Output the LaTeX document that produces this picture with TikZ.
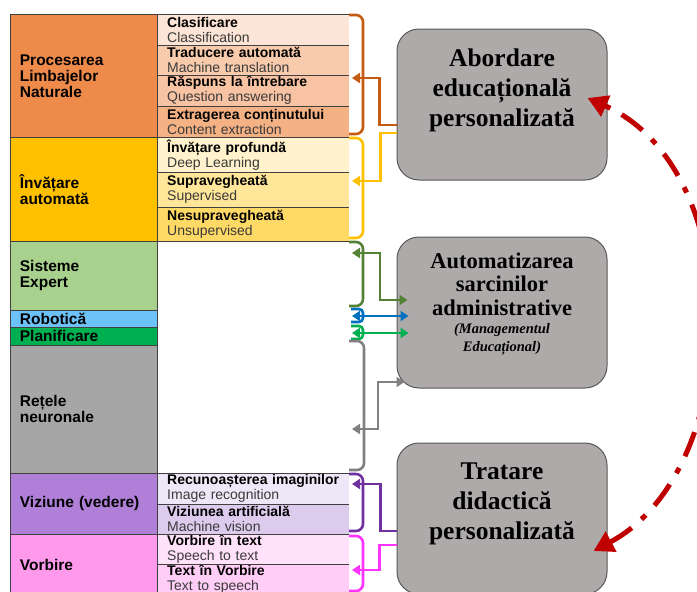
\documentclass[tikz,border=0pt]{standalone}
\usepackage{fontspec}
\setmainfont{Liberation Serif}
\newfontfamily\arialfont{Liberation Sans}
\usetikzlibrary{arrows.meta,positioning}

% table colours
\definecolor{gridline}{HTML}{404040}
\definecolor{subgray}{HTML}{3A3A3A}
\definecolor{nlpmain}{HTML}{EE8B4B}
\definecolor{nlpa}{HTML}{FCE4D6}
\definecolor{nlpb}{HTML}{F8CBAD}
\definecolor{nlpc}{HTML}{F7C3A3}
\definecolor{nlpd}{HTML}{F4B183}
\definecolor{mlmain}{HTML}{FFC000}
\definecolor{mla}{HTML}{FFF2CC}
\definecolor{mlb}{HTML}{FFE699}
\definecolor{mlc}{HTML}{FFD966}
\definecolor{expmain}{HTML}{A9D18E}
\definecolor{robmain}{HTML}{6DC2FA}
\definecolor{planmain}{HTML}{00B050}
\definecolor{nnmain}{HTML}{A6A6A6}
\definecolor{vismain}{HTML}{B07FD7}
\definecolor{visa}{HTML}{EEE7F7}
\definecolor{visb}{HTML}{DDCBEE}
\definecolor{spmain}{HTML}{FF99EB}
\definecolor{spa}{HTML}{FFE1FA}
\definecolor{spb}{HTML}{FFCDF5}
% connector colours
\definecolor{nlpline}{HTML}{C55A11}
\definecolor{mlline}{HTML}{FFC000}
\definecolor{expline}{HTML}{548235}
\definecolor{robline}{HTML}{0070C0}
\definecolor{planline}{HTML}{00B050}
\definecolor{nnline}{HTML}{808080}
\definecolor{visline}{HTML}{7030A0}
\definecolor{spline}{HTML}{FF33FF}
\definecolor{boxfill}{HTML}{AEAAAA}
\definecolor{boxedge}{HTML}{595959}
\definecolor{cyclered}{HTML}{C00000}

\newcommand{\subtxt}[2]{\textbf{#1}\\\textcolor{subgray}{#2}}

\tikzset{
  catcell/.style={draw=gridline, line width=0.8pt, anchor=north west, text width=128pt,
    inner xsep=9.5pt, inner ysep=0pt, align=left,
    font=\arialfont\bfseries\fontsize{15.5}{16}\selectfont},
  subcell/.style={anchor=north west, text width=172pt, inner xsep=10pt, inner ysep=0pt,
    align=left, font=\arialfont\fontsize{14}{15}\selectfont},
  gridrule/.style={draw=gridline, line width=0.8pt},
  brace/.style={line width=2.6pt, rounded corners=7pt},
  smallbrace/.style={line width=2.6pt, rounded corners=4pt},
  link/.style={line width=2.6pt, -{Triangle[length=8pt,width=10pt]}},
  duallink/.style={line width=2.6pt, {Triangle[length=8pt,width=10pt]}-{Triangle[length=8pt,width=10pt]}},
  edubox/.style={rounded corners=22pt, minimum width=210pt, minimum height=151pt,
    fill=boxfill, draw=boxedge, line width=1pt},
  boxtitle/.style={align=center, inner sep=0pt, font=\bfseries\fontsize{25.5}{30}\selectfont},
  boxtitlesmall/.style={align=center, inner sep=0pt, font=\bfseries\fontsize{22.5}{23.5}\selectfont},
  boxnote/.style={align=center, inner sep=0pt, font=\bfseries\itshape\fontsize{14.5}{18}\selectfont},
  cyclelink/.style={cyclered, line width=5pt, dash pattern=on 26pt off 13pt on 6pt off 13pt,
    {Triangle[length=20pt,width=22pt]}-{Triangle[length=20pt,width=22pt]}}
}

\begin{document}
\begin{tikzpicture}[x=1pt, y=-1pt]
  \useasboundingbox (0,0) rectangle (697,592);
  \clip (0,0) rectangle (697,592);

  % Sub-fields
  \node[subcell, fill=nlpa, minimum height=31pt] (cls) at (157,14) {\subtxt{Clasificare}{Classification}};
  \node[subcell, fill=nlpb, minimum height=30pt] (trd) at (157,45) {\subtxt{Traducere automată}{Machine translation}};
  \node[subcell, fill=nlpc, minimum height=31pt] (qa) at (157,75) {\subtxt{Răspuns la întrebare}{Question answering}};
  \node[subcell, fill=nlpd, minimum height=31pt] (ext) at (157,106) {\subtxt{Extragerea conținutului}{Content extraction}};
  \node[subcell, fill=mla, minimum height=35pt] (deep) at (157,137) {\subtxt{Învățare profundă}{Deep Learning}};
  \node[subcell, fill=mlb, minimum height=35pt] (sup) at (157,172) {\subtxt{Supravegheată}{Supervised}};
  \node[subcell, fill=mlc, minimum height=34pt] (uns) at (157,207) {\subtxt{Nesupravegheată}{Unsupervised}};
  \node[subcell, minimum height=232pt] (blank) at (157,241) {};
  \node[subcell, fill=visa, minimum height=31pt] (img) at (157,473) {\subtxt{Recunoașterea imaginilor}{Image recognition}};
  \node[subcell, fill=visb, minimum height=30pt] (mv) at (157,504) {\subtxt{Viziunea artificială}{Machine vision}};
  \node[subcell, fill=spa, minimum height=30pt] (stt) at (157,534) {\subtxt{Vorbire în text}{Speech to text}};
  \node[subcell, fill=spb, minimum height=30pt] (tts) at (157,564) {\subtxt{Text în Vorbire}{Text to speech}};
  \foreach \c in {cls,trd,qa,ext,deep,sup,uns,blank,img,mv,stt,tts}
    \draw[gridrule] (\c.north west) -- (\c.north east);

  % Fields
  \node[catcell, fill=nlpmain, minimum height=123pt] (nlp) at (10,14) {Procesarea\\Limbajelor\\Naturale};
  \node[catcell, fill=mlmain, minimum height=104pt] (ml) at (10,137) {Învățare\\automată};
  \node[catcell, fill=expmain, minimum height=69pt] (expert) at (10,241) {Sisteme\\Expert};
  \node[catcell, fill=robmain, minimum height=17pt] (robot) at (10,310) {Robotică};
  \node[catcell, fill=planmain, minimum height=18pt] (plan) at (10,327) {Planificare};
  \node[catcell, fill=nnmain, minimum height=128pt] (neural) at (10,345) {Rețele\\neuronale};
  \node[catcell, fill=vismain, minimum height=61pt] (vision) at (10,473) {Viziune (vedere)};
  \node[catcell, fill=spmain, minimum height=62pt] (speech) at (10,534) {Vorbire};

  % Brackets
  \draw[brace, nlpline] (349,15) -- (363,15) -- (363,134) -- (349,134);
  \draw[brace, mlline] (349,138) -- (363,138) -- (363,238) -- (349,238);
  \draw[brace, expline] (349,242) -- (363,242) -- (363,306) -- (349,306);
  \draw[smallbrace, robline] (351,309) -- (363,309) -- (363,322) -- (351,322);
  \draw[smallbrace, planline] (351,326) -- (363,326) -- (363,339) -- (351,339);
  \draw[brace, nnline] (349,341) -- (364,341) -- (364,470) -- (349,470);
  \draw[brace, visline] (349,474) -- (363,474) -- (363,531) -- (349,531);
  \draw[brace, spline] (349,536) -- (363,536) -- (363,591) -- (349,591);

  % Bracket ends
  \coordinate (nlpin) at (352,78);
  \coordinate (mlin) at (352,181);
  \coordinate (expin) at (352,253);
  \coordinate (robin) at (352,316);
  \coordinate (planin) at (352,333);
  \coordinate (nnin) at (352,429);
  \coordinate (visin) at (352,484);
  \coordinate (spin) at (352,570);

  % Application boxes
  \node[edubox] (abordare) at (502,104.5) {};
  \node[edubox] (autom) at (502,312.5) {};
  \node[edubox] (tratare) at (502,518.5) {};
  \node[boxtitle] (abordaretxt) at (502,90) {Abordare\\educațională\\personalizată};
  \node[boxtitlesmall] (automtxt) at (502,284) {Automatizarea\\sarcinilor\\administrative};
  \node[boxnote] (automnote) at (502,339) {(Managementul\\Educațional)};
  \node[boxtitle] (tratartxt) at (502,504) {Tratare\\didactică\\personalizată};

  % Links
  \draw[link, nlpline] ([yshift=-20.5pt]abordare.west) -- ++(-17,0) |- (nlpin);
  \draw[link, mlline] ([yshift=-28.5pt]abordare.west) -- ++(-16,0) |- (mlin);
  \draw[duallink, expline] (expin) -- ++(28,0) |- ([xshift=11pt,yshift=12.5pt]autom.west);
  \draw[duallink, robline] (robin) -- ([xshift=12pt,yshift=-3.5pt]autom.west);
  \draw[duallink, planline] (planin) -- ([xshift=12pt,yshift=-20.5pt]autom.west);
  \draw[duallink, nnline] (nnin) -- ++(26,0) |- ([xshift=8pt,yshift=-69.5pt]autom.west);
  \draw[link, visline] ([yshift=-12.5pt]tratare.west) -- ++(-16,0) |- (visin);
  \draw[link, spline] ([yshift=-26.5pt]tratare.west) -- ++(-17,0) |- (spin);

  % Cycle
  \draw[cyclelink] ([xshift=-14pt,yshift=-32.5pt]tratare.east)
    .. controls (745,470) and (750,170) .. ([xshift=-20pt,yshift=6.5pt]abordare.east);

\end{tikzpicture}
\end{document}
